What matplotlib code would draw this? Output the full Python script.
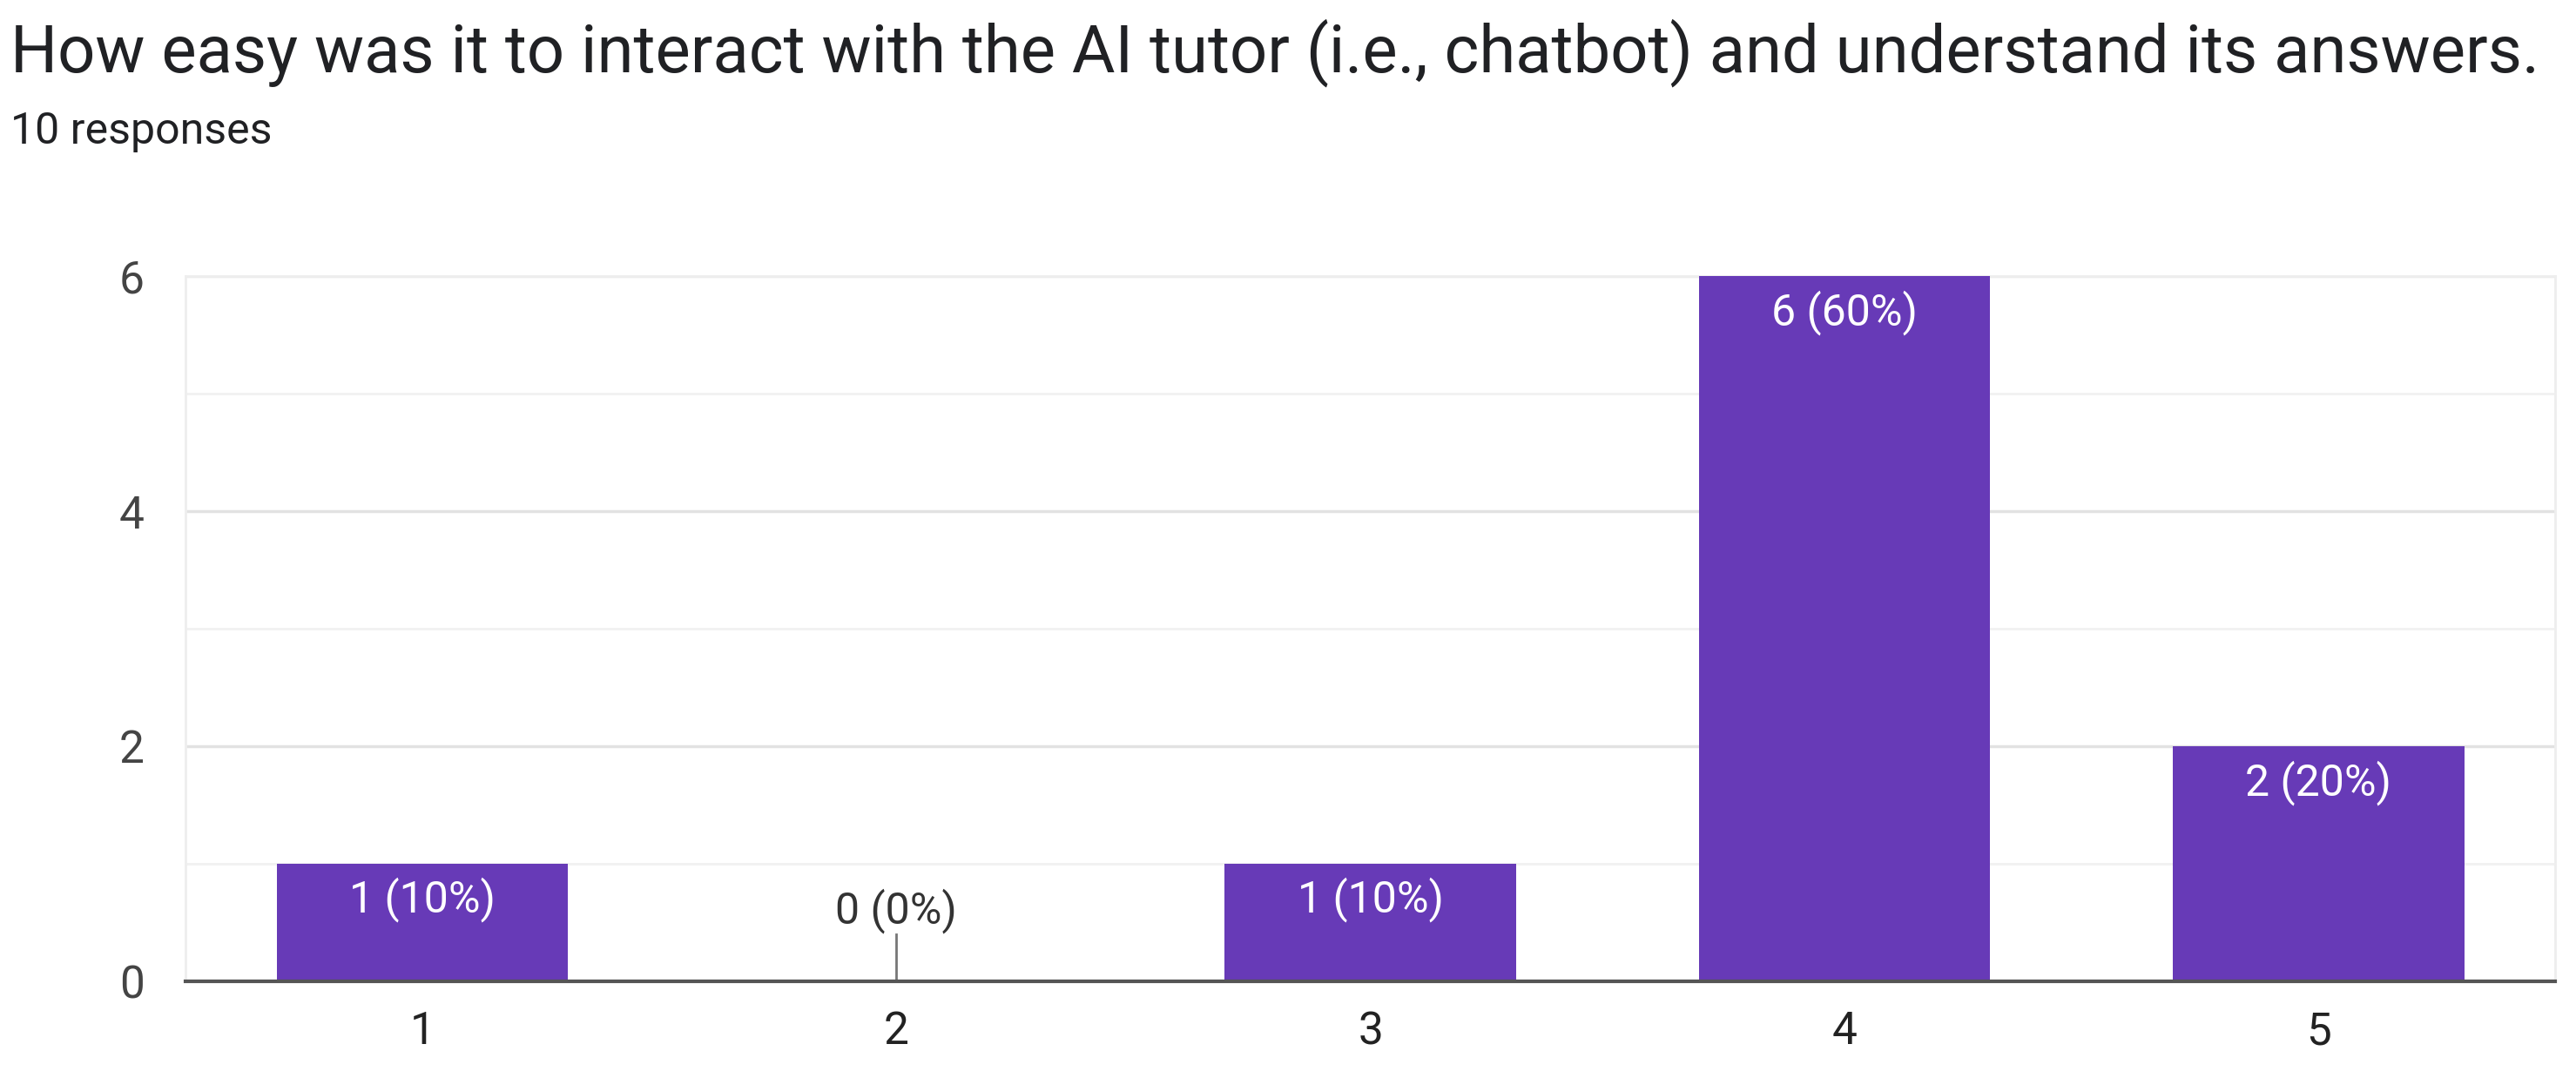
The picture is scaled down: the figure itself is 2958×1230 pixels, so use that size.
import matplotlib.pyplot as plt
import numpy as np

plt.rcParams['font.family'] = ['Roboto', 'DejaVu Sans']

# survey answers (scale 1-5) and how many picked each
ratings = ["1", "2", "3", "4", "5"]
counts = [1, 0, 1, 6, 2]
total = 10

title = "How easy was it to interact with the AI tutor (i.e., chatbot) and understand its answers."
subtitle = "10 responses"

purple = "#673ab7"

fig = plt.figure(figsize=(29.58, 12.3), dpi=100)
ax = fig.add_axes([0.072, 0.084, 0.92, 0.658])

x = np.arange(1, len(ratings) + 1)
ax.bar(x, counts, width=0.615, color=purple, zorder=3)

# labels inside bars, zero bar gets a thin stub + label above
for xi, c in zip(x, counts):
    pct = round(100 * c / total)
    lab = f"{c} ({pct}%)"
    if c == 0:
        ax.plot([xi, xi], [0, 0.4], color="#777777", lw=2, zorder=4)
        ax.text(xi, 0.6, lab, ha="center", va="center", fontsize=36, color="#333333")
    else:
        ax.text(xi, c - 0.31, lab, ha="center", va="center", fontsize=36, color="white", zorder=5)

ax.set_xlim(0.5, 5.5)
ax.set_ylim(0, 6)
ax.set_xticks(x)
ax.set_xticklabels(ratings)
ax.set_yticks([0, 2, 4, 6])
ax.set_yticks([1, 3, 5], minor=True)
ax.grid(axis="y", which="major", color="#e2e2e2", lw=2.5, zorder=0)
ax.grid(axis="y", which="minor", color="#f1f1f1", lw=2, zorder=0)
ax.tick_params(axis="both", which="both", length=0)
ax.tick_params(axis="y", labelsize=37, labelcolor="#444444", pad=34)
ax.tick_params(axis="x", labelsize=37, labelcolor="#222222", pad=24)

for s in ["top", "left", "right"]:
    ax.spines[s].set_color("#eeeeee")
    ax.spines[s].set_linewidth(2)
ax.spines["bottom"].set_color("#555555")
ax.spines["bottom"].set_linewidth(3)
ax.spines["bottom"].set_zorder(6)

fig.text(0.004, 0.951, title, fontsize=54.7, color="#202124", va="center", ha="left")
fig.text(0.004, 0.877, subtitle, fontsize=36, color="#202124", va="center", ha="left")

fig.savefig("out.png", dpi=100, facecolor="white")
